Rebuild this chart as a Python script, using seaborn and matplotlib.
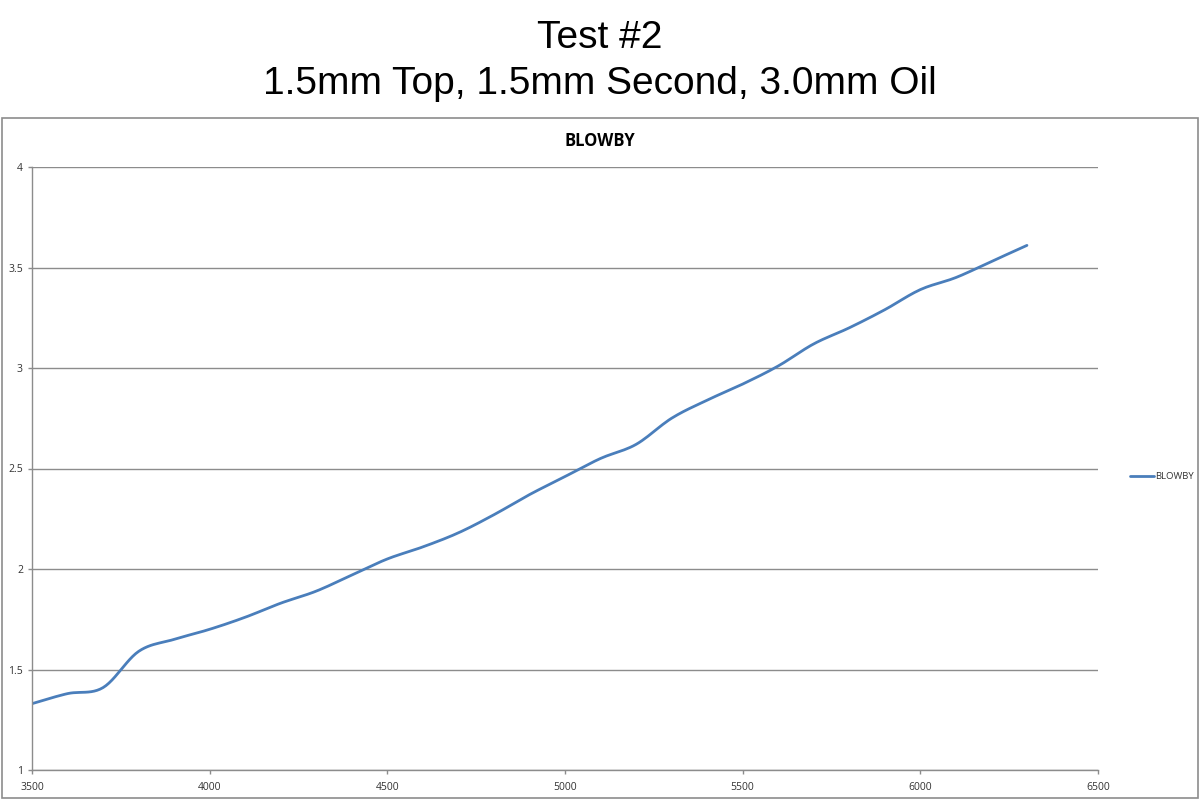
import numpy as np
import pandas as pd
import seaborn as sns
import matplotlib
matplotlib.use("Agg")
import matplotlib.pyplot as plt
from matplotlib.patches import Rectangle

# RPM vs blowby
rpm = [3500, 3600, 3700, 3800, 3900, 4000, 4100, 4200, 4300, 4400,
       4500, 4600, 4700, 4800, 4900, 5000, 5100, 5200, 5300, 5400,
       5500, 5600, 5700, 5800, 5900, 6000, 6100, 6200, 6300]
blowby = [1.33, 1.38, 1.41, 1.59, 1.65, 1.70, 1.76, 1.83, 1.89, 1.97,
          2.05, 2.11, 2.18, 2.27, 2.37, 2.46, 2.55, 2.62, 2.75, 2.84,
          2.92, 3.01, 3.12, 3.20, 3.29, 3.39, 3.45, 3.53, 3.61]
x_ticks = [3500, 4000, 4500, 5000, 5500, 6000, 6500]
y_ticks = [1, 1.5, 2, 2.5, 3, 3.5, 4]
y_tick_labels = ["1", "1.5", "2", "2.5", "3", "3.5", "4"]


def smooth(x, y, n=12):
    # Catmull-Rom style smoothing, like Excel's "smoothed line"
    x = np.asarray(x, float)
    y = np.asarray(y, float)
    px = np.concatenate([[2 * x[0] - x[1]], x, [2 * x[-1] - x[-2]]])
    py = np.concatenate([[2 * y[0] - y[1]], y, [2 * y[-1] - y[-2]]])
    xs, ys = [], []
    t = np.linspace(0, 1, n, endpoint=False)
    for i in range(1, len(px) - 2):
        for p, out in ((px, xs), (py, ys)):
            p0, p1, p2, p3 = p[i - 1], p[i], p[i + 1], p[i + 2]
            out.extend(0.5 * ((2 * p1) + (-p0 + p2) * t
                              + (2 * p0 - 5 * p1 + 4 * p2 - p3) * t ** 2
                              + (-p0 + 3 * p1 - 3 * p2 + p3) * t ** 3))
    xs.append(x[-1])
    ys.append(y[-1])
    return np.array(xs), np.array(ys)


sx, sy = smooth(rpm, blowby)
df = pd.DataFrame({"rpm": sx, "blowby": sy, "series": "BLOWBY"})

sns.set_style("white")
plt.rcParams["font.family"] = ["Liberation Sans", "DejaVu Sans"]
plt.rcParams["text.color"] = "black"

fig = plt.figure(figsize=(12, 8), dpi=100)
ax = fig.add_axes([32 / 1200, 1 - 770 / 800, (1098 - 32) / 1200, (770 - 167) / 800])

sns.lineplot(data=df, x="rpm", y="blowby", hue="series", sort=False,
             palette=["#4a7ebb"], linewidth=2.0, ax=ax)

ax.set_xlim(3500, 6500)
ax.set_ylim(1, 4)
ax.set_xticks(x_ticks)
ax.set_yticks(y_ticks)
ax.set_yticklabels(y_tick_labels)
ax.set_xlabel("")
ax.set_ylabel("")
ax.yaxis.grid(True, color="#8c8c8c", linewidth=1.0)
ax.xaxis.grid(False)
for side in ["top", "right"]:
    ax.spines[side].set_visible(False)
for side in ["left", "bottom"]:
    ax.spines[side].set_color("#8c8c8c")
    ax.spines[side].set_linewidth(1.0)
ax.tick_params(axis="both", labelsize=7.5, colors="#8c8c8c", labelcolor="#333333",
               length=3, width=1, direction="out", left=True, bottom=True)
ax.tick_params(axis="x", pad=6)
for lab in ax.get_xticklabels() + ax.get_yticklabels():
    lab.set_family(["Open Sans", "DejaVu Sans"])

leg = ax.legend(loc="center left", bbox_to_anchor=(1125 / 1200, 1 - 477 / 800),
                bbox_transform=fig.transFigure, frameon=False, fontsize=6.8,
                handlelength=2.6, handletextpad=0.05, borderpad=0, title=None)
for txt in leg.get_texts():
    txt.set_family(["Open Sans", "DejaVu Sans"])
    txt.set_color("#333333")

# chart frame
fig.patches.append(Rectangle((2 / 1200, 2 / 800), 1196 / 1200, 680 / 800,
                             transform=fig.transFigure, fill=False,
                             edgecolor="#8c8c8c", linewidth=1.2))

fig.text(0.5, 1 - 38 / 800, "Test #2", ha="center", va="center", fontsize=28,
         color="black")
fig.text(0.5, 1 - 84 / 800, "1.5mm Top, 1.5mm Second, 3.0mm Oil",
         ha="center", va="center", fontsize=28, color="black")
fig.text(0.5, 1 - 141 / 800, "BLOWBY", ha="center", va="center", fontsize=12,
         fontweight="bold", color="black", family=["Open Sans", "DejaVu Sans"])

fig.savefig("out.png", dpi=100)
